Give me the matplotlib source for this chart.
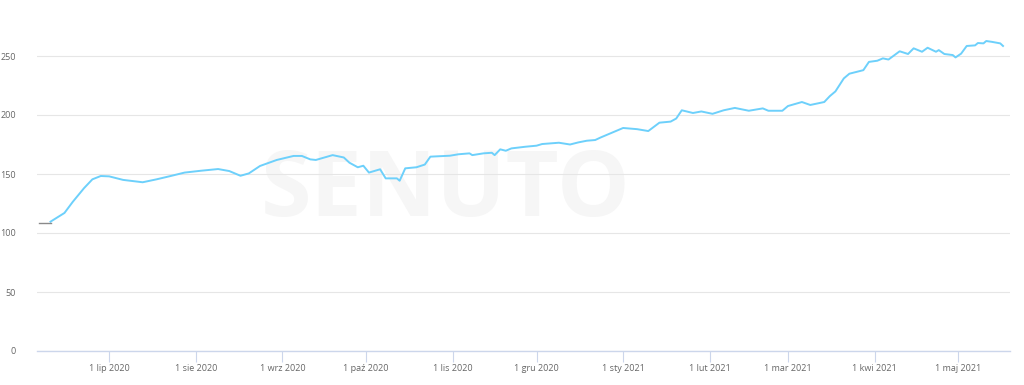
import numpy as np
import pandas as pd
import matplotlib
matplotlib.use("Agg")
import matplotlib.pyplot as plt

# -------------------- 数据 --------------------
dates = [
    "2020-06-10", "2020-06-15", "2020-06-18", "2020-06-22", "2020-06-25", "2020-06-28",
    "2020-07-01", "2020-07-06", "2020-07-13", "2020-07-18", "2020-07-23", "2020-07-28",
    "2020-08-03", "2020-08-09", "2020-08-13", "2020-08-17", "2020-08-20", "2020-08-24",
    "2020-08-30", "2020-09-05", "2020-09-08", "2020-09-11", "2020-09-13", "2020-09-19",
    "2020-09-23", "2020-09-25", "2020-09-28", "2020-09-30", "2020-10-02", "2020-10-06",
    "2020-10-08", "2020-10-12", "2020-10-13", "2020-10-15", "2020-10-19", "2020-10-22",
    "2020-10-24", "2020-10-31", "2020-11-03", "2020-11-07", "2020-11-08", "2020-11-12",
    "2020-11-15", "2020-11-16", "2020-11-18", "2020-11-20", "2020-11-22", "2020-11-27",
    "2020-12-01", "2020-12-03", "2020-12-09", "2020-12-13", "2020-12-16", "2020-12-19",
    "2020-12-22", "2020-12-24", "2021-01-01", "2021-01-06", "2021-01-10", "2021-01-14",
    "2021-01-18", "2021-01-20", "2021-01-22", "2021-01-26", "2021-01-29", "2021-02-02",
    "2021-02-06", "2021-02-10", "2021-02-15", "2021-02-20", "2021-02-22", "2021-02-27",
    "2021-03-01", "2021-03-06", "2021-03-09", "2021-03-14", "2021-03-16", "2021-03-18",
    "2021-03-21", "2021-03-23", "2021-03-28", "2021-03-30", "2021-04-02", "2021-04-04",
    "2021-04-06", "2021-04-10", "2021-04-13", "2021-04-15", "2021-04-18", "2021-04-20",
    "2021-04-23", "2021-04-24", "2021-04-26", "2021-04-29", "2021-04-30", "2021-05-02",
    "2021-05-04", "2021-05-07", "2021-05-08", "2021-05-10", "2021-05-11", "2021-05-13",
    "2021-05-16", "2021-05-17",
]
values = [
    109.6, 117.0, 126.5, 138.0, 145.5, 148.3,
    148.0, 145.0, 143.0, 145.5, 148.3, 151.2,
    152.8, 154.2, 152.5, 148.5, 150.5, 156.8,
    161.9, 165.3, 165.3, 162.4, 161.9, 166.0,
    164.0, 159.6, 155.7, 157.0, 151.2, 154.0,
    146.3, 146.3, 144.3, 154.8, 155.7, 158.0,
    164.7, 165.5, 166.7, 167.5, 166.0, 167.5,
    168.0, 166.0, 170.9, 169.7, 171.7, 173.1,
    174.0, 175.4, 176.5, 175.0, 176.8, 178.2,
    178.8, 181.0, 189.0, 188.0, 186.4, 193.5,
    194.4, 197.0, 204.0, 201.7, 203.0, 201.0,
    204.0, 206.0, 203.6, 205.6, 203.6, 203.6,
    207.6, 211.0, 208.5, 211.0, 216.0, 220.0,
    231.0, 235.0, 238.0, 245.0, 246.0, 248.0,
    247.0, 254.0, 251.7, 256.5, 253.6, 257.0,
    253.6, 255.0, 251.7, 250.8, 248.8, 252.0,
    258.5, 259.0, 261.0, 260.7, 262.7, 262.0,
    260.7, 258.5,
]

tick_dates = ["2020-07-01", "2020-08-01", "2020-09-01", "2020-10-01", "2020-11-01",
              "2020-12-01", "2021-01-01", "2021-02-01", "2021-03-01", "2021-04-01",
              "2021-05-01"]
tick_labels = ["1 lip 2020", "1 sie 2020", "1 wrz 2020", "1 paź 2020", "1 lis 2020",
               "1 gru 2020", "1 sty 2021", "1 lut 2021", "1 mar 2021", "1 kwi 2021",
               "1 maj 2021"]
y_ticks = [0, 50, 100, 150, 200, 250]

dates = pd.to_datetime(dates)
tick_dates = pd.to_datetime(tick_dates)

plt.rcParams["font.family"] = ["Open Sans", "DejaVu Sans"]

# -------------------- 绘图 --------------------
fig = plt.figure(figsize=(10.24, 3.85), dpi=100)
ax = fig.add_axes([37 / 1024, 1 - 351 / 385, (1010 - 37) / 1024, (351 - 26.5) / 385])

# 水印（画在曲线下方）
ax.text(0.42, 0.49, "SENUTO", transform=ax.transAxes, fontsize=66,
        fontweight="bold", color="#f6f6f6", ha="center", va="center", zorder=1)

ax.plot(dates, values, color="#6dd0fb", linewidth=1.4, zorder=3,
        solid_joinstyle="round")

# 起点处的小标记
ax.plot([dates[0] - pd.Timedelta(days=4), dates[0]], [values[0] - 1.5] * 2,
        color="#8a8a8a", linewidth=1.0, zorder=4)

ax.set_xlim(pd.Timestamp("2020-06-05 04:00"), pd.Timestamp("2021-05-19 12:00"))
ax.set_ylim(0, 275)

ax.set_yticks(y_ticks)
ax.set_yticklabels([str(v) for v in y_ticks])
ax.set_xticks(tick_dates)
ax.set_xticklabels(tick_labels)

ax.grid(axis="y", color="#e6e6e6", linewidth=0.8, zorder=0)

for side in ["top", "right", "left"]:
    ax.spines[side].set_visible(False)
ax.spines["bottom"].set_color("#ccd6eb")
ax.spines["bottom"].set_linewidth(1)

ax.tick_params(axis="y", length=0, pad=15, labelsize=6.5, labelcolor="#666666")
ax.tick_params(axis="x", length=8, width=0.8, color="#ccd6eb", pad=1.5,
               labelsize=6.5, labelcolor="#666666")

fig.savefig("out.png", dpi=100)
